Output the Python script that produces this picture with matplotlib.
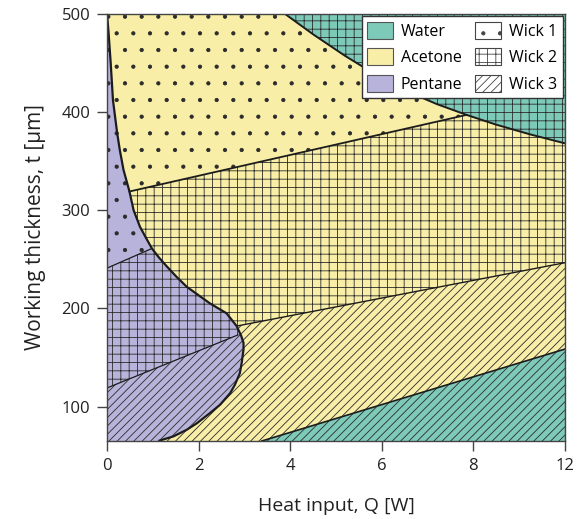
import numpy as np
import matplotlib
matplotlib.use("Agg")
import matplotlib.pyplot as plt
from matplotlib.patches import Patch

plt.rcParams['font.family'] = ['Open Sans', 'DejaVu Sans']
plt.rcParams['hatch.linewidth'] = 0.6
plt.rcParams['hatch.color'] = '#2b2b2b'

# axis range and ticks (the last tick is printed as 12 in the original)
q_lim = (0, 10)
t_lim = (65, 500)
x_ticks = [0, 2, 4, 6, 8, 10]
x_labels = ['0', '2', '4', '6', '8', '12']
y_ticks = [100, 200, 300, 400, 500]

# fluids and wicks
fluids = ['Water', 'Acetone', 'Pentane']
fluid_colors = ['#7ecab9', '#f9eea8', '#b8b3da']
wicks = ['Wick 1', 'Wick 2', 'Wick 3']
wick_hatches = ['.', '++', '////']

# pentane / acetone boundary, Q as a function of t
pent_t = [65, 69.7, 76.4, 83, 93.5, 102, 113.8, 122, 134, 144.4, 158, 165, 172,
          182, 195, 205, 214, 222, 232, 243, 252, 261, 271, 283, 300, 319, 341,
          361, 379, 412, 450, 480, 500]
pent_q = [1.12, 1.45, 1.74, 1.96, 2.25, 2.47, 2.69, 2.79, 2.90, 2.94, 2.98, 2.98,
          2.93, 2.83, 2.61, 2.25, 1.98, 1.74, 1.52, 1.30, 1.13, 0.98, 0.86, 0.72,
          0.58, 0.49, 0.36, 0.28, 0.22, 0.13, 0.08, 0.035, 0.0]

# acetone / water boundary (top right)
water_q = [3.88, 4.5, 5.2, 5.9, 6.6, 7.2, 7.85, 8.5, 9.25, 10.0]
water_t = [500, 479, 457, 437, 420, 408, 397, 387, 377, 368]

# acetone / water boundary (bottom right)
wlow_q = [3.38, 10.0]
wlow_t = [65, 158.6]

# wick boundaries: p = pentane side, a = acetone side
p12_q, p12_t = [0.0, 0.98], [241, 261]
p23_q, p23_t = [0.0, 2.86], [119, 173]
a12_q, a12_t = [0.49, 7.85], [319, 397]
a23_q, a23_t = [2.83, 10.0], [182, 246.5]

ink = '#1c1c1c'
hatch_c = '#2b2b2b'


def line_at(q, qs, ts):
    # straight boundary, extended over the whole axis
    q = np.asarray(q, dtype=float)
    return ts[0] + (ts[1] - ts[0]) * (q - qs[0]) / (qs[1] - qs[0])


fig = plt.figure(figsize=(5.81, 5.19), dpi=100)
ax = fig.add_axes([0.1842, 0.1503, 0.7883, 0.8233])
ax.set_xlim(*q_lim)
ax.set_ylim(*t_lim)

qq = np.array(q_lim, dtype=float)

# fluid areas
ace = ax.fill_betweenx(pent_t, pent_q, q_lim[1], facecolor=fluid_colors[1], linewidth=0)
pen = ax.fill_betweenx(pent_t, q_lim[0], pent_q, facecolor=fluid_colors[2], linewidth=0)


def hatch_region(lo, hi, hatch, clip):
    h = ax.fill_between(qq, lo, hi, facecolor='none', edgecolor=hatch_c,
                        linewidth=0, hatch=hatch)
    h.set_clip_path(clip.get_paths()[0], ax.transData)


top = np.full(2, t_lim[1])
bot = np.full(2, t_lim[0])

# wicks inside pentane
hatch_region(line_at(qq, p12_q, p12_t), top, wick_hatches[0], pen)
hatch_region(line_at(qq, p23_q, p23_t), line_at(qq, p12_q, p12_t), wick_hatches[1], pen)
hatch_region(bot, line_at(qq, p23_q, p23_t), wick_hatches[2], pen)

# wicks inside acetone
hatch_region(line_at(qq, a12_q, a12_t), top, wick_hatches[0], ace)
hatch_region(line_at(qq, a23_q, a23_t), line_at(qq, a12_q, a12_t), wick_hatches[1], ace)
hatch_region(bot, line_at(qq, a23_q, a23_t), wick_hatches[2], ace)

# water areas on top
ax.fill_between(water_q, water_t, t_lim[1], facecolor=fluid_colors[0],
                edgecolor=hatch_c, linewidth=0, hatch=wick_hatches[1])
ax.fill_between(wlow_q, t_lim[0], wlow_t, facecolor=fluid_colors[0],
                edgecolor=hatch_c, linewidth=0, hatch=wick_hatches[2])

# boundary lines
ax.plot(pent_q, pent_t, color=ink, lw=1.6, solid_capstyle='butt')
ax.plot(water_q, water_t, color=ink, lw=1.4)
ax.plot(wlow_q, wlow_t, color=ink, lw=1.2)
ax.plot(a12_q, a12_t, color=ink, lw=1.3)
ax.plot(a23_q, a23_t, color=ink, lw=1.0)
ax.plot(p12_q, p12_t, color=ink, lw=0.9)
ax.plot(p23_q, p23_t, color=ink, lw=0.9)

ax.set_xticks(x_ticks)
ax.set_xticklabels(x_labels)
ax.set_yticks(y_ticks)
ax.tick_params(direction='out', length=7, width=1, color='#444444',
               labelsize=12, labelcolor='#222222', pad=5)
for s in ax.spines.values():
    s.set_color('#444444')
    s.set_linewidth(1.0)

ax.set_xlabel('Heat input, Q [W]', fontsize=14, color='#222222', labelpad=17)
ax.set_ylabel('Working thickness, t [µm]', fontsize=15, color='#222222', labelpad=11)

handles = [Patch(facecolor=c, edgecolor='#555555', linewidth=0.8, label=n)
           for n, c in zip(fluids, fluid_colors)]
handles += [Patch(facecolor='white', edgecolor='#444444', linewidth=0.8, hatch=h, label=n)
            for n, h in zip(wicks, wick_hatches)]
leg = ax.legend(handles=handles, ncol=2, loc='upper right', fontsize=11.5,
                frameon=True, fancybox=False, framealpha=1, edgecolor='#333333',
                borderaxespad=0.15, handlelength=1.6, handleheight=1.25,
                handletextpad=0.5, columnspacing=0.8, labelspacing=0.55,
                borderpad=0.35)
leg.get_frame().set_linewidth(1.0)

fig.savefig('out.png', dpi=100)
